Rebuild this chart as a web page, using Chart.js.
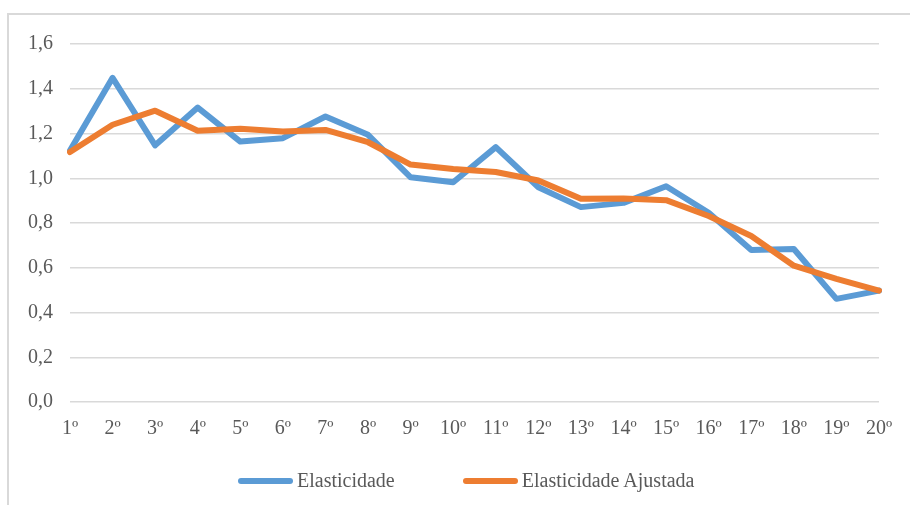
<!DOCTYPE html>
<html>
<head>
<meta charset="utf-8">
<script src="https://cdn.jsdelivr.net/npm/chart.js@4.4.1/dist/chart.umd.min.js"></script>
<style>
  html, body { margin: 0; padding: 0; background: #fff; }
  body { width: 910px; height: 505px; position: relative; overflow: hidden; }
  #frame {
    position: absolute; left: 7px; top: 13px; width: 901px; height: 490px;
    border-left: 2px solid #d9d9d9; border-top: 2px solid #d9d9d9;
  }
  #legend {
    position: absolute; left: 238px; top: 469px;
    display: flex; gap: 68px;
    font-family: "Liberation Serif", "Times New Roman", serif; font-size: 20px; color: #595959;
  }
  .item { display: flex; align-items: center; gap: 4px; }
  .mark { width: 55px; height: 6px; border-radius: 3px; }
</style>
</head>
<body>
<div id="frame"><canvas id="chart" width="901" height="490"></canvas></div>
<div id="legend"></div>
<script>
const categories = ['1º', '2º', '3º', '4º', '5º', '6º', '7º', '8º', '9º', '10º',
  '11º', '12º', '13º', '14º', '15º', '16º', '17º', '18º', '19º', '20º']
const elasticidade = [1.124, 1.449, 1.147, 1.316, 1.164, 1.179, 1.276, 1.194, 1.004, 0.982,
  1.139, 0.960, 0.871, 0.890, 0.964, 0.846, 0.679, 0.684, 0.461, 0.498]
const elasticidadeAjustada = [1.117, 1.239, 1.302, 1.212, 1.221, 1.209, 1.216, 1.161, 1.061, 1.041,
  1.028, 0.990, 0.908, 0.910, 0.902, 0.831, 0.742, 0.609, 0.550, 0.498]
const yTicks = [0, 0.2, 0.4, 0.6, 0.8, 1.0, 1.2, 1.4, 1.6]

const font = { family: '"Liberation Serif", "Times New Roman", serif', size: 20 }

const datasets = [
  { label: 'Elasticidade', data: elasticidade, borderColor: '#5b9bd5', order: 1 },
  { label: 'Elasticidade Ajustada', data: elasticidadeAjustada, borderColor: '#ed7d31', order: 0 }
].map(ds => ({
  ...ds,
  backgroundColor: ds.borderColor,
  borderWidth: 6,
  borderCapStyle: 'round',
  borderJoinStyle: 'round',
  pointRadius: 0,
  pointHoverRadius: 0,
  tension: 0,
  fill: false
}))

const chart = new Chart(document.getElementById('chart'), {
  type: 'line',
  data: { labels: categories, datasets: datasets },
  options: {
    responsive: false,
    animation: false,
    layout: { padding: { top: 27, right: 31, bottom: 0, left: 0 } },
    plugins: {
      legend: { display: false },
      tooltip: { enabled: false }
    },
    scales: {
      x: {
        grid: { display: false, drawTicks: false },
        border: { display: false },
        ticks: { color: '#595959', font: font, padding: 15, maxRotation: 0, autoSkip: false },
        afterFit: s => { s.height = 103 }
      },
      y: {
        min: yTicks[0],
        max: yTicks[yTicks.length - 1],
        grid: { color: '#d9d9d9', lineWidth: 1.5, drawTicks: false },
        border: { display: false },
        ticks: {
          stepSize: 0.2,
          color: '#595959',
          font: font,
          padding: 17,
          callback: v => v.toFixed(1).replace('.', ',')
        },
        afterFit: s => { s.width = 61 }
      }
    }
  }
})

// legend built from the datasets, in Excel style
const legend = document.getElementById('legend')
datasets.forEach(ds => {
  const item = document.createElement('div')
  item.className = 'item'
  const mark = document.createElement('span')
  mark.className = 'mark'
  mark.style.background = ds.borderColor
  const text = document.createElement('span')
  text.textContent = ds.label
  item.appendChild(mark)
  item.appendChild(text)
  legend.appendChild(item)
})
</script>
</body>
</html>
